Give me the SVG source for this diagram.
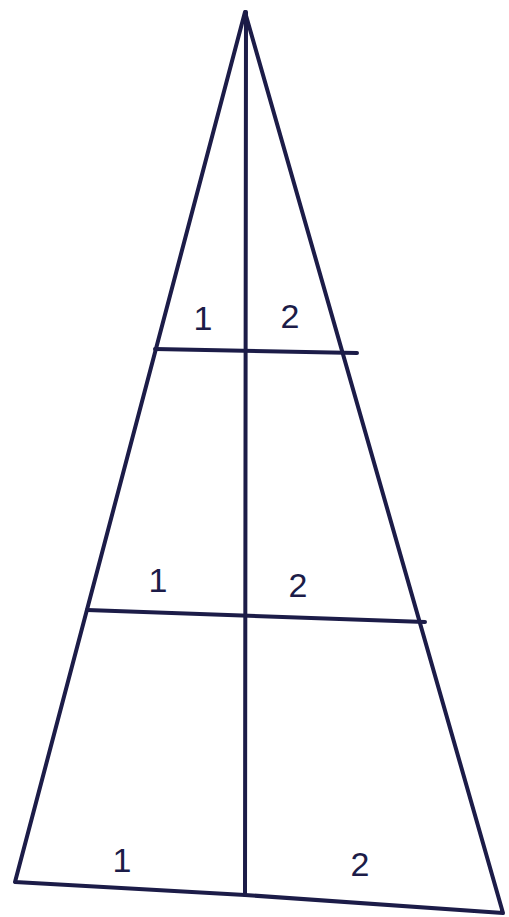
<svg xmlns="http://www.w3.org/2000/svg" width="509" height="917" viewBox="0 0 509 917">
<style>
.ln{stroke:#1c1c48;stroke-width:4;fill:none;stroke-linecap:round;stroke-linejoin:round}
.lb{font-family:"Liberation Sans",sans-serif;font-size:34px;fill:#1c1c48;text-anchor:middle}
</style>
<rect width="509" height="917" fill="#ffffff"/>
<g id="connectors">
<path class="ln" d="M245,12 L15,882 L245,895 L503,913 Z"/>
<path class="ln" d="M246,12 L245,895"/>
<path class="ln" d="M155,349 L357,353"/>
<path class="ln" d="M87,610 L425,622"/>
</g>
<g id="labels">
<text class="lb" x="203" y="330">1</text>
<text class="lb" x="290" y="328">2</text>
<text class="lb" x="158" y="592">1</text>
<text class="lb" x="298" y="597">2</text>
<text class="lb" x="122" y="872">1</text>
<text class="lb" x="360" y="876">2</text>
</g>
</svg>
